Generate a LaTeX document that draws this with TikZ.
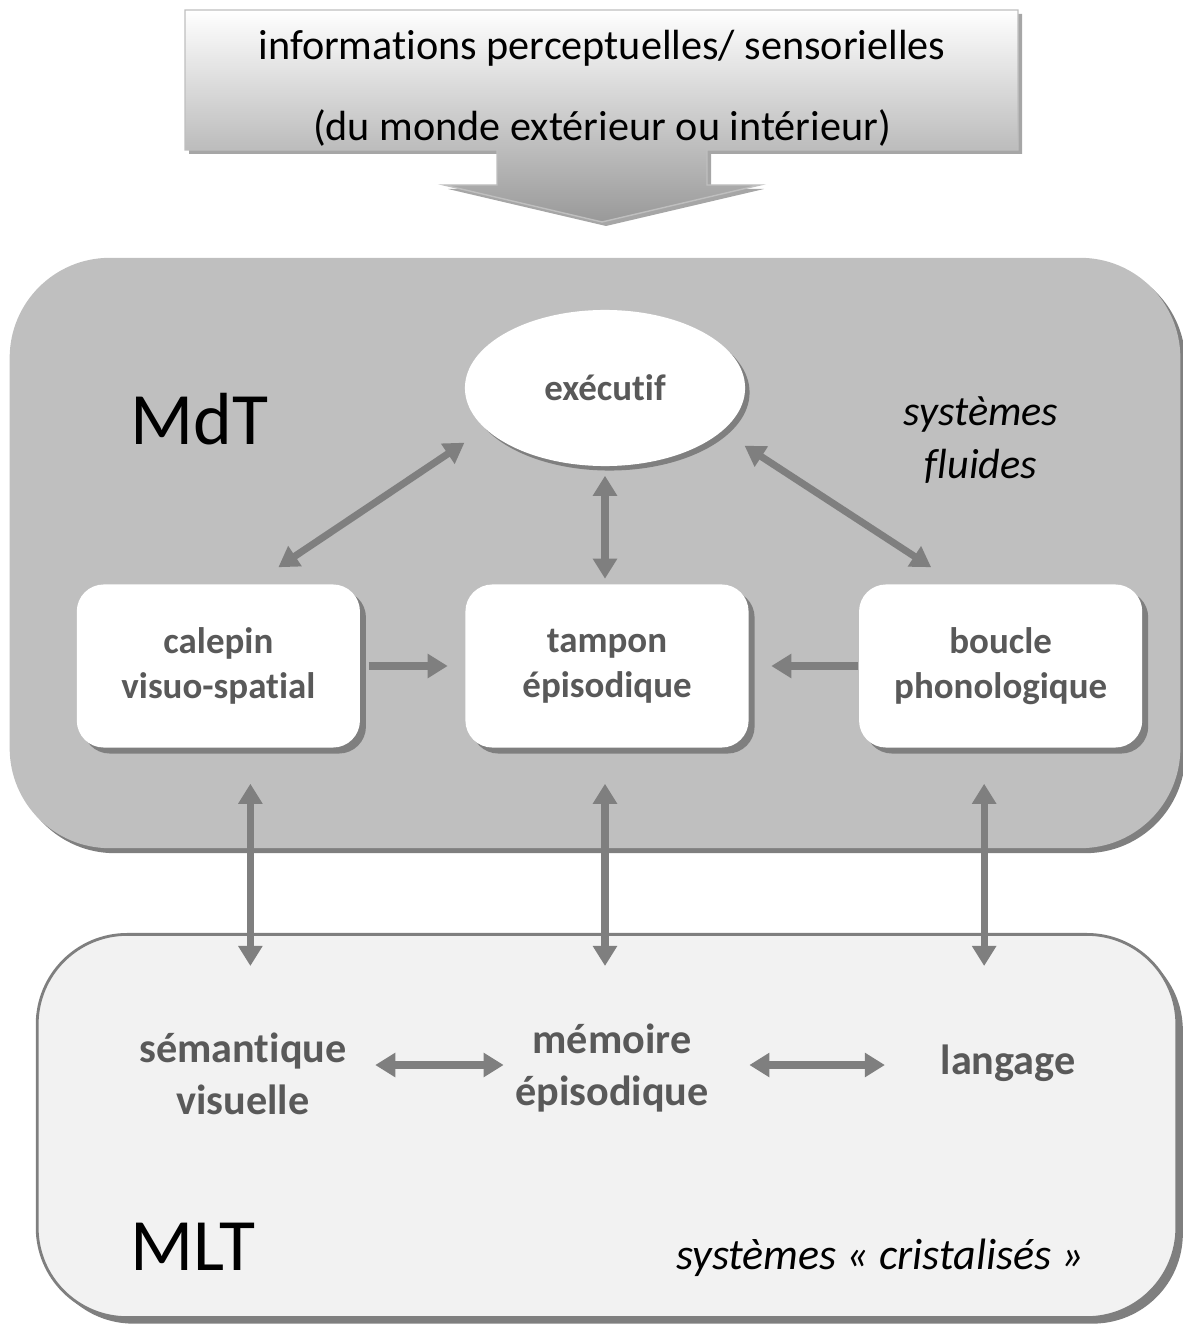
\documentclass[tikz,border=0pt]{standalone}
\usepackage{fontspec}
\setmainfont{Carlito}[RawFeature={-liga;-clig;-calt;-dlig}]
\usetikzlibrary{arrows.meta,positioning,shapes.geometric,shadows,calc}
\definecolor{fond}{HTML}{BFBFBF}
\definecolor{clair}{HTML}{F2F2F2}
\definecolor{trait}{HTML}{7F7F7F}
\definecolor{texte}{HTML}{595959}
\tikzset{>/.tip={Triangle[width=6.6pt,length=5.7pt]}}
\tikzset{ombre/.style={drop shadow={shadow xshift=#1,shadow yshift=-#1,opacity=1,fill=trait}}}
\tikzset{bloc/.style={fill=white,rounded corners=0.27cm,minimum width=2.83cm,minimum height=1.63cm,
  align=center,text=texte,font=\fontsize{10.5}{12.8}\selectfont\bfseries,ombre=0.06cm}}
\tikzset{memoire/.style={inner sep=0pt,align=center,text=texte,font=\fontsize{12}{14.8}\selectfont\bfseries}}
\tikzset{titre/.style={anchor=base west,inner sep=0pt,font=\fontsize{21}{25}\selectfont}}
\tikzset{soustitre/.style={align=center,font=\fontsize{12}{15}\selectfont\itshape}}
\tikzset{lien/.style={draw=trait,line width=2pt}}

\begin{document}
\begin{tikzpicture}[x=0.01cm,y=-0.01cm,node distance=1.07cm]
  \useasboundingbox (0,0) rectangle (1182,1328);
  % entree
  \path[top color=white,bottom color=black!40,draw=black!25,
    drop shadow={shadow xshift=0.04cm,shadow yshift=-0.04cm,opacity=1,fill=black!35}]
    (185,10) -- (1018,10) -- (1018,150) -- (707,150) -- (707,185) -- (760,185)
    -- (602,222) -- (444,185) -- (497,185) -- (497,150) -- (185,150) -- cycle;
  \node[align=center,font=\fontsize{12}{23}\selectfont](info) at (602,88)
    {informations perceptuelles/ sensorielles\\(du monde extérieur ou intérieur)};
  % les deux memoires
  \node[fill=fond,rounded corners=1cm,minimum width=11.7cm,minimum height=5.9cm,ombre=0.05cm](mdt) at (595,553){};
  \node[fill=clair,draw=trait,line width=0.8pt,rounded corners=0.9cm,minimum width=11.39cm,minimum height=3.83cm,
    ombre=0.06cm](mlt) at (607,1126){};
  \node[titre](nmdt) at (130,445){MdT};
  \node[titre](nmlt) at (130,1270){MLT};
  \node[soustitre](fluide) at (981,440){systèmes\\fluides};
  \node[soustitre,font=\fontsize{12.5}{15}\selectfont\itshape](cristal) at (880,1258){systèmes « cristalisés »};
  % MdT
  \node[ellipse,fill=white,inner sep=0pt,minimum width=2.8cm,minimum height=1.56cm,text=texte,
    font=\fontsize{10.5}{12.8}\selectfont\bfseries,ombre=0.045cm](exec) at (605,388){exécutif};
  \node[bloc](tam) at (607,666){tampon\\épisodique};
  \node[bloc](cal)[left=1.04cm of tam]{calepin\\visuo-spatial};
  \node[bloc](bou)[right=1.09cm of tam]{boucle\\phonologique};
  % MLT
  \node[memoire](sem) at (243,1074){sémantique\\visuelle};
  \node[memoire](epi) at (612,1068){mémoire\\épisodique};
  \node[memoire](lang) at (1008,1063){langage};
  \draw[lien,<->] ($(cal.north)+(60,-16.5)$) -- ($(exec.south west)+(-41,-1)$);
  \draw[lien,<->] ($(exec.south)+(0,9)$) -- ($(tam.north)+(-2,-5)$);
  \draw[lien,<->] ($(exec.south east)+(40,2)$) -- ($(bou.north)+(-69.5,-16.5)$);
  \draw[lien,->,shorten <=0.08cm,shorten >=0.17cm] (cal.east) -- (tam.west);
  \draw[lien,->,shorten >=0.22cm] (bou.west) -- (tam.east);
  \draw[lien,<->] ($(cal.south)+(32,35.5)$) -- ($(cal.south |- mlt.north)+(32,33)$);
  \draw[lien,<->] ($(tam.south)+(-2,35.5)$) -- ($(tam.south |- mlt.north)+(-2,33)$);
  \draw[lien,<->] ($(bou.south)+(-16.5,35.5)$) -- ($(bou.south |- mlt.north)+(-16.5,33)$);
  \draw[lien,<->] ($(sem.east)+(28,-9)$) -- ($(epi.west)+(-11,-3)$);
  \draw[lien,<->] ($(epi.east)+(40,-3)$) -- ($(lang.west)+(-55,2)$);
\end{tikzpicture}
\end{document}
